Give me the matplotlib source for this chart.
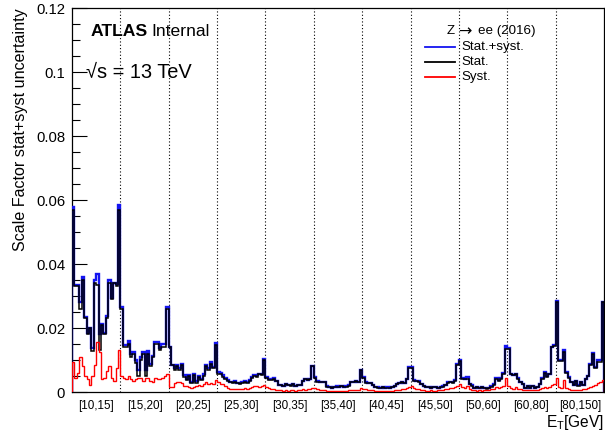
import numpy as np
import matplotlib
matplotlib.use("Agg")
import matplotlib.pyplot as plt
from matplotlib.lines import Line2D
from matplotlib.ticker import MultipleLocator, FixedLocator, FixedFormatter

plt.rcParams["font.family"] = ["Liberation Sans", "DejaVu Sans"]
plt.rcParams["mathtext.default"] = "regular"

# E_T bins (GeV); each holds 20 eta bins
et_labels = ["[10,15]", "[15,20]", "[20,25]", "[25,30]", "[30,35]", "[35,40]",
             "[40,45]", "[45,50]", "[50,60]", "[60,80]", "[80,150]"]

# statistical uncertainty per eta bin, one list per E_T bin
stat_10_15 = [0.057, 0.033, 0.033, 0.026, 0.035, 0.023, 0.018, 0.020, 0.0127, 0.034,
              0.0335, 0.013, 0.021, 0.018, 0.023, 0.034, 0.029, 0.034, 0.033, 0.057]
stat_15_20 = [0.026, 0.014, 0.014, 0.015, 0.011, 0.012, 0.009, 0.005, 0.010, 0.012,
              0.005, 0.012, 0.008, 0.011, 0.015, 0.015, 0.013, 0.0142, 0.014, 0.026]
stat_20_25 = [0.014, 0.0084, 0.0069, 0.0080, 0.0069, 0.0084, 0.0048, 0.0037, 0.0050, 0.0027,
              0.0053, 0.0027, 0.0046, 0.0037, 0.0050, 0.0080, 0.0070, 0.0089, 0.0074, 0.0147]
stat_25_30 = [0.0055, 0.0055, 0.0048, 0.0040, 0.0035, 0.0030, 0.0028, 0.0032, 0.0027, 0.0025,
              0.0028, 0.0032, 0.0028, 0.0035, 0.0045, 0.0050, 0.0048, 0.0055, 0.0052, 0.0100]
stat_30_35 = [0.0043, 0.0038, 0.0038, 0.0042, 0.0035, 0.0022, 0.0022, 0.0019, 0.0025, 0.0022,
              0.0020, 0.0025, 0.0019, 0.0022, 0.0022, 0.0035, 0.0040, 0.0038, 0.0040, 0.0081]
stat_35_40 = [0.0045, 0.0032, 0.0031, 0.0032, 0.0030, 0.0017, 0.0015, 0.0012, 0.0015, 0.0017,
              0.0015, 0.0018, 0.0015, 0.0017, 0.0020, 0.0032, 0.0031, 0.0034, 0.0031, 0.0069]
stat_40_45 = [0.0045, 0.0029, 0.0028, 0.0027, 0.0022, 0.0016, 0.0014, 0.0013, 0.0016, 0.0013,
              0.0014, 0.0013, 0.0016, 0.0019, 0.0025, 0.0027, 0.0031, 0.0027, 0.0040, 0.0075]
stat_45_50 = [0.0075, 0.0035, 0.0034, 0.0032, 0.0025, 0.0018, 0.0016, 0.0015, 0.0013, 0.0016,
              0.0015, 0.0013, 0.0015, 0.0017, 0.0022, 0.0029, 0.0030, 0.0029, 0.0034, 0.0085]
stat_50_60 = [0.0098, 0.0042, 0.0040, 0.0042, 0.0025, 0.0020, 0.0012, 0.0016, 0.0012, 0.0016,
              0.0012, 0.0010, 0.0012, 0.0016, 0.0023, 0.0040, 0.0034, 0.0040, 0.0055, 0.0135]
stat_60_80 = [0.0135, 0.0055, 0.0052, 0.0055, 0.0042, 0.0030, 0.0024, 0.0013, 0.0018, 0.0013,
              0.0018, 0.0013, 0.0016, 0.0025, 0.0042, 0.0060, 0.0048, 0.0055, 0.0140, 0.0145]
stat_80_150 = [0.0280, 0.0098, 0.0098, 0.0125, 0.0060, 0.0045, 0.0030, 0.0022, 0.0035, 0.0020,
               0.0032, 0.0022, 0.0040, 0.0050, 0.0085, 0.0120, 0.0075, 0.0095, 0.0095, 0.0280]

# systematic uncertainty per eta bin
syst_10_15 = [0.0095, 0.0045, 0.0060, 0.0110, 0.0080, 0.0050, 0.0040, 0.0022, 0.0050, 0.0085,
              0.0155, 0.0125, 0.0040, 0.0045, 0.0065, 0.0080, 0.0045, 0.0035, 0.0075, 0.0130]
syst_15_20 = [0.0050, 0.0045, 0.0040, 0.0050, 0.0042, 0.0035, 0.0040, 0.0045, 0.0043, 0.0035,
              0.0045, 0.0045, 0.0035, 0.0030, 0.0045, 0.0040, 0.0040, 0.0045, 0.0050, 0.0055]
syst_20_25 = [0.0015, 0.0015, 0.0027, 0.0030, 0.0030, 0.0027, 0.0020, 0.0018, 0.0015, 0.0013,
              0.0015, 0.0020, 0.0022, 0.0020, 0.0025, 0.0030, 0.0025, 0.0027, 0.0025, 0.0037]
syst_25_30 = [0.0030, 0.0025, 0.0025, 0.0020, 0.0012, 0.0010, 0.0010, 0.0008, 0.0010, 0.0010,
              0.0010, 0.0012, 0.0010, 0.0012, 0.0015, 0.0018, 0.0020, 0.0015, 0.0018, 0.0022]
syst_30_35 = [0.0015, 0.0012, 0.0010, 0.0008, 0.0006, 0.0005, 0.0005, 0.0004, 0.0005, 0.0004,
              0.0005, 0.0005, 0.0004, 0.0005, 0.0006, 0.0008, 0.0007, 0.0009, 0.0010, 0.0013]
syst_35_40 = [0.0012, 0.0008, 0.0007, 0.0006, 0.0005, 0.0004, 0.0004, 0.0003, 0.0004, 0.0003,
              0.0004, 0.0004, 0.0003, 0.0004, 0.0005, 0.0006, 0.0005, 0.0006, 0.0007, 0.0012]
syst_40_45 = [0.0010, 0.0008, 0.0007, 0.0006, 0.0005, 0.0004, 0.0004, 0.0003, 0.0004, 0.0003,
              0.0004, 0.0004, 0.0004, 0.0005, 0.0006, 0.0007, 0.0008, 0.0009, 0.0012, 0.0017]
syst_45_50 = [0.0018, 0.0012, 0.0010, 0.0008, 0.0006, 0.0005, 0.0004, 0.0004, 0.0005, 0.0004,
              0.0004, 0.0005, 0.0005, 0.0006, 0.0008, 0.0010, 0.0011, 0.0012, 0.0015, 0.0020]
syst_50_60 = [0.0025, 0.0015, 0.0012, 0.0018, 0.0008, 0.0006, 0.0005, 0.0004, 0.0005, 0.0004,
              0.0005, 0.0006, 0.0005, 0.0008, 0.0010, 0.0015, 0.0012, 0.0016, 0.0020, 0.0045]
syst_60_80 = [0.0020, 0.0012, 0.0010, 0.0015, 0.0010, 0.0008, 0.0006, 0.0005, 0.0006, 0.0005,
              0.0006, 0.0005, 0.0006, 0.0008, 0.0012, 0.0016, 0.0012, 0.0015, 0.0022, 0.0025]
syst_80_150 = [0.0045, 0.0015, 0.0012, 0.0038, 0.0012, 0.0008, 0.0006, 0.0005, 0.0006, 0.0005,
               0.0007, 0.0008, 0.0010, 0.0012, 0.0015, 0.0018, 0.0022, 0.0027, 0.0032, 0.0038]

stat = np.concatenate([stat_10_15, stat_15_20, stat_20_25, stat_25_30, stat_30_35, stat_35_40,
                       stat_40_45, stat_45_50, stat_50_60, stat_60_80, stat_80_150])
syst = np.concatenate([syst_10_15, syst_15_20, syst_20_25, syst_25_30, syst_30_35, syst_35_40,
                       syst_40_45, syst_45_50, syst_50_60, syst_60_80, syst_80_150])
# combined uncertainty: stat and syst added in quadrature
total = np.sqrt(stat ** 2 + syst ** 2)

n_et = len(et_labels)
n_eta = len(stat_10_15)
edges = np.linspace(0, n_et, n_et * n_eta + 1)

W, H = 605, 430
fig = plt.figure(figsize=(W / 100, H / 100), dpi=100)
ax = fig.add_axes([72 / W, 38 / H, 532 / W, 384 / H])

blue = "#1414f0"
red = "#ff0000"
ax.stairs(total, edges, color=blue, lw=1.7, baseline=0, zorder=3)
ax.stairs(stat, edges, color="black", lw=1.1, baseline=0, zorder=4)
ax.stairs(syst, edges, color=red, lw=1.0, baseline=0, zorder=5)

for k in range(1, n_et):
    ax.axvline(k, color="black", lw=0.8, ls=(0, (1, 2)), zorder=2)

ax.set_xlim(0, n_et)
ax.set_ylim(0, 0.12)

# y axis: ROOT-like inward ticks on the left
ax.yaxis.set_major_locator(FixedLocator([0, 0.02, 0.04, 0.06, 0.08, 0.10, 0.12]))
ax.yaxis.set_major_formatter(FixedFormatter(["0", "0.02", "0.04", "0.06", "0.08", "0.1", "0.12"]))
ax.yaxis.set_minor_locator(MultipleLocator(0.005))
ax.tick_params(axis="y", which="major", direction="in", length=11, width=0.8,
               labelsize=10.7, pad=5)
ax.tick_params(axis="y", which="minor", direction="in", length=5.5, width=0.8)

# x axis: bin labels, no tick marks
ax.set_xticks(np.arange(n_et) + 0.5)
ax.set_xticklabels(et_labels)
ax.tick_params(axis="x", which="both", length=0, labelsize=8.4, pad=6)

for s in ax.spines.values():
    s.set_linewidth(0.9)

ax.set_ylabel("Scale Factor stat+syst uncertainty", fontsize=11.6, loc="top", labelpad=6)
fig.text(604 / W, 1 - 422 / H, "E$_T$[GeV]", fontsize=11.2, ha="right", va="center")

def px(x, y):
    return (x - 72) / 532, (392 - y) / 384

ax.text(*px(91, 31), "ATLAS", transform=ax.transAxes, fontsize=12.6,
        fontweight="bold", va="center", ha="left")
ax.text(*px(151.5, 31), "Internal", transform=ax.transAxes, fontsize=12.6,
        va="center", ha="left")
ax.text(*px(86, 73), "\u221as = 13 TeV", transform=ax.transAxes, fontsize=14.4,
        va="center", ha="left")

# legend header, arrow taken from DejaVu Sans
ax.text(*px(446.5, 31), "Z", transform=ax.transAxes, fontsize=9.6, va="center", ha="left")
ax.text(*px(465, 31.5), "\u2192", transform=ax.transAxes, fontsize=11.5,
        family="DejaVu Sans", va="center", ha="center")
ax.text(*px(478.5, 31), "ee (2016)", transform=ax.transAxes, fontsize=9.6,
        va="center", ha="left")
entries = [("Stat.+syst.", blue), ("Stat.", "black"), ("Syst.", red)]
for i, (lab, col) in enumerate(entries):
    yy = 47 + 15.2 * i
    x0, y0 = px(425, yy)
    x1, _ = px(455, yy)
    ax.add_line(Line2D([x0, x1], [y0, y0], transform=ax.transAxes, color=col, lw=1.3))
    ax.text(*px(461, yy), lab, transform=ax.transAxes, fontsize=9.6, va="center", ha="left")

fig.savefig("out.png", dpi=100)
